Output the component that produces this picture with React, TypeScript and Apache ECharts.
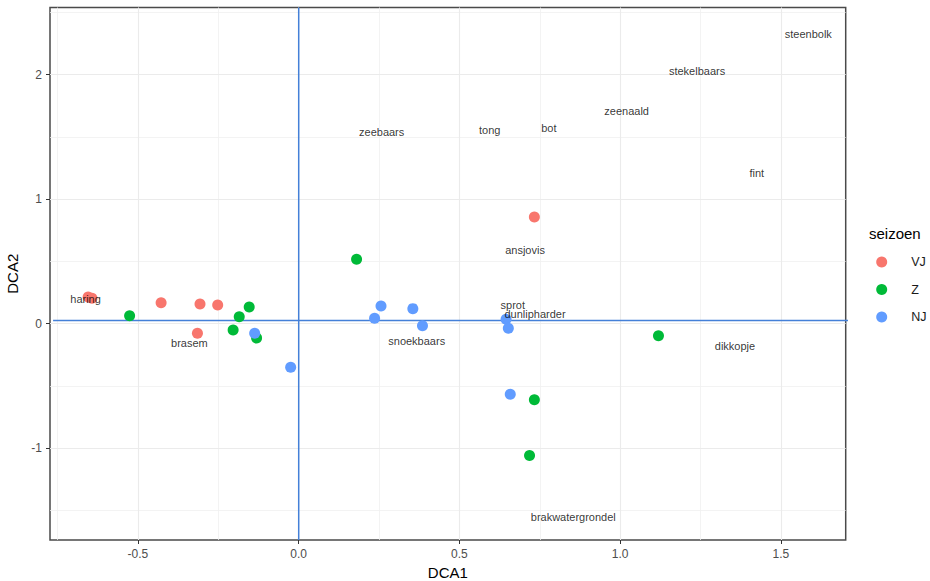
import React, { useEffect, useRef } from "react";
import * as echarts from "echarts";

// Seasons and their colours
const seasons = ["VJ", "Z", "NJ"];
const seasonColors = ["#F8766D", "#00BA38", "#619CFF"];

// Site scores per season (DCA1, DCA2)
const vjDCA1 = [-0.655, -0.643, -0.428, -0.307, -0.252, -0.315, 0.733];
const vjDCA2 = [0.215, 0.205, 0.169, 0.158, 0.15, -0.077, 0.856];

const zDCA1 = [-0.526, -0.154, -0.185, -0.204, -0.131, 0.18, 1.119, 0.733, 0.718];
const zDCA2 = [0.064, 0.134, 0.056, -0.051, -0.115, 0.517, -0.096, -0.61, -1.057];

const njDCA1 = [-0.137, -0.025, 0.236, 0.256, 0.355, 0.385, 0.645, 0.652, 0.658];
const njDCA2 = [-0.077, -0.35, 0.043, 0.142, 0.121, -0.016, 0.035, -0.037, -0.567];

// Species scores
const species = [
  "steenbolk", "stekelbaars", "zeenaald", "bot", "tong", "zeebaars", "fint",
  "ansjovis", "haring", "brasem", "snoekbaars", "sprot", "dunlipharder",
  "dikkopje", "brakwatergrondel",
];
const speciesDCA1 = [
  1.585, 1.239, 1.02, 0.778, 0.594, 0.258, 1.425,
  0.704, -0.663, -0.34, 0.367, 0.666, 0.735,
  1.357, 0.854,
];
const speciesDCA2 = [
  2.325, 2.028, 1.707, 1.573, 1.555, 1.539, 1.209,
  0.594, 0.196, -0.155, -0.139, 0.15, 0.08,
  -0.182, -1.554,
];

// Axis ranges and breaks
const xRange = [-0.7736, 1.7014];
const yRange = [-1.736, 2.538];
const xMajorTicks = [-0.5, 0, 0.5, 1, 1.5];
const xMinorTicks = [-0.75, -0.25, 0.25, 0.75, 1.25];
const yMajorTicks = [-1, 0, 1, 2];
const yMinorTicks = [-1.5, -0.5, 0.5, 1.5, 2.5];

// Reference lines (the horizontal one runs slightly past the panel edge)
const refX = 0;
const refY = 0.025;
const refHSpan = [-0.764, 1.714];

const FONT = "'Liberation Sans', Arial, Helvetica, sans-serif";
const REF_COLOR = "#4480d8";

const seasonX = [vjDCA1, zDCA1, njDCA1];
const seasonY = [vjDCA2, zDCA2, njDCA2];

export default function App() {
  const ref = useRef<HTMLDivElement>(null);

  useEffect(() => {
    if (!ref.current) return;
    const chart = echarts.init(ref.current, undefined, { renderer: "svg" });

    const gridLine = (color: string, width: number) => ({
      silent: true,
      symbol: "none",
      label: { show: false },
      lineStyle: { color, width, type: "solid" as const },
      emphasis: { disabled: true },
    });

    const refLine = (name: string, data: number[][]) => ({
      name,
      type: "line" as const,
      data,
      z: 1,
      clip: false,
      silent: true,
      symbol: "none",
      showSymbol: false,
      lineStyle: { color: REF_COLOR, width: 1.5 },
      itemStyle: { color: REF_COLOR },
      emphasis: { disabled: true },
    });

    const pointSeries = seasons.map((s, i) => ({
      name: s,
      type: "scatter" as const,
      symbol: "circle",
      symbolSize: 11,
      z: 3,
      itemStyle: { color: seasonColors[i], opacity: 1 },
      data: seasonX[i].map((x, k) => [x, seasonY[i][k]]),
    }));

    chart.setOption({
      animation: false,
      backgroundColor: "#ffffff",
      textStyle: { fontFamily: FONT },
      grid: {
        left: 50,
        right: 84.3,
        top: 7.5,
        bottom: 41,
        outerBoundsMode: "none",
        containLabel: false,
        show: true,
        borderColor: "#4a4a4a",
        borderWidth: 1.5,
        backgroundColor: "transparent",
      },
      xAxis: {
        type: "value",
        min: xRange[0],
        max: xRange[1],
        name: "DCA1",
        nameLocation: "middle",
        nameGap: 23,
        nameTextStyle: { fontSize: 15, color: "#000000", fontFamily: FONT },
        axisLine: { show: false, onZero: false },
        axisTick: {
          show: true,
          length: 4,
          customValues: xMajorTicks,
          lineStyle: { color: "#333333" },
        },
        axisLabel: {
          customValues: xMajorTicks,
          margin: 8,
          fontSize: 12,
          color: "#4d4d4d",
          fontFamily: FONT,
          formatter: (v: number) => v.toFixed(1),
        },
        splitLine: { show: false },
      },
      yAxis: {
        type: "value",
        min: yRange[0],
        max: yRange[1],
        name: "DCA2",
        nameLocation: "middle",
        nameGap: 23,
        nameTextStyle: { fontSize: 15, color: "#000000", fontFamily: FONT },
        axisLine: { show: false, onZero: false },
        axisTick: {
          show: true,
          length: 4,
          customValues: yMajorTicks,
          lineStyle: { color: "#333333" },
        },
        axisLabel: {
          customValues: yMajorTicks,
          margin: 8,
          fontSize: 12,
          color: "#4d4d4d",
          fontFamily: FONT,
          formatter: (v: number) => String(v),
        },
        splitLine: { show: false },
      },
      legend: {
        data: seasons.map((s) => ({ name: s, icon: "circle" })),
        orient: "vertical",
        left: 876.2,
        top: 255.5,
        padding: 0,
        itemWidth: 11,
        itemHeight: 11,
        itemGap: 14.5,
        selectedMode: false,
        textStyle: {
          fontSize: 12.5,
          color: "#1a1a1a",
          fontFamily: FONT,
          padding: [0, 0, 0, 19],
        },
      },
      graphic: [
        {
          type: "text",
          left: 869,
          top: 226,
          style: {
            text: "seizoen",
            fontSize: 15,
            fill: "#000000",
            fontFamily: FONT,
          },
        },
      ],
      series: [
        {
          name: "gridMinor",
          type: "scatter",
          data: [],
          silent: true,
          markLine: {
            ...gridLine("#f0f0f0", 0.8),
            z: 0,
            data: [
              ...xMinorTicks.map((v) => ({ xAxis: v })),
              ...yMinorTicks.map((v) => ({ yAxis: v })),
            ],
          },
        },
        {
          name: "gridMajor",
          type: "scatter",
          data: [],
          silent: true,
          markLine: {
            ...gridLine("#ebebeb", 1.1),
            z: 0.5,
            data: [
              ...xMajorTicks.map((v) => ({ xAxis: v })),
              ...yMajorTicks.map((v) => ({ yAxis: v })),
            ],
          },
        },
        refLine("refV", [
          [refX, yRange[0]],
          [refX, yRange[1]],
        ]),
        refLine("refH", [
          [refHSpan[0], refY],
          [refHSpan[1], refY],
        ]),
        ...pointSeries,
        {
          name: "species",
          type: "scatter",
          symbolSize: 0,
          z: 4,
          silent: true,
          itemStyle: { color: "rgba(0,0,0,0)" },
          label: {
            show: true,
            position: "inside",
            formatter: (p: any) => p.name,
            fontSize: 11,
            color: "#000000",
            fontFamily: FONT,
          },
          data: species.map((n, i) => ({
            name: n,
            value: [speciesDCA1[i], speciesDCA2[i]],
          })),
        },
      ],
    });

    return () => chart.dispose();
  }, []);

  return (
    <div
      ref={ref}
      style={{
        position: "fixed",
        left: 0,
        top: 0,
        width: 930,
        height: 581,
        background: "#ffffff",
      }}
    />
  );
}
